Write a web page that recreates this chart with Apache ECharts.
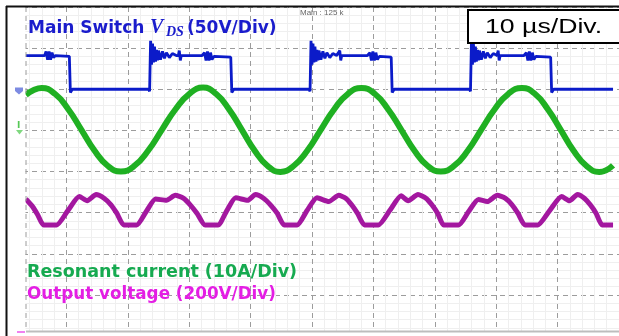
<!DOCTYPE html>
<html>
<head>
    <meta charset="UTF-8">
    <title>Scope capture</title>
    <script src="https://cdn.jsdelivr.net/npm/echarts@6/dist/echarts.min.js"></script>
</head>
<body style="margin: 0; background: #fff">
<div id="container" style="width: 619px; height: 336px"></div>
<script type="text/javascript">
    // time in µs (10 µs/div), amplitude in divisions above the bottom graticule line
    const blueTrace = [
        [3.39, 6.82], [6.45, 6.82], [6.69, 6.92], [6.94, 6.72], [7.18, 6.92], [7.42, 6.72], [7.66, 6.89], [7.90, 6.77], [8.23, 6.82],
        [10.48, 6.80], [10.65, 6.80], [10.65, 5.92], [10.97, 6.00], [23.39, 6.00], [23.55, 5.95],
        [23.71, 5.97], [23.71, 7.18], [23.87, 6.60], [24.03, 7.11], [24.19, 6.65], [24.35, 7.04], [24.52, 6.67], [24.68, 6.96],
        [24.84, 6.70], [25.00, 6.94], [25.32, 6.72], [25.65, 6.92], [25.97, 6.75], [26.29, 6.89], [26.77, 6.77], [27.26, 6.87], [27.90, 6.82],
        [28.23, 6.82], [28.39, 6.94], [28.55, 6.70], [28.71, 6.82], [32.10, 6.82],
        [32.26, 6.80], [32.50, 6.89], [32.74, 6.70], [32.98, 6.92], [33.23, 6.70], [33.47, 6.89], [33.71, 6.72], [34.03, 6.80], [36.77, 6.78],
        [36.94, 6.78], [36.94, 5.92], [37.26, 6.00], [49.52, 6.00], [49.68, 5.95],
        [49.84, 5.97], [49.84, 7.18], [50.00, 6.60], [50.16, 7.11], [50.32, 6.65], [50.48, 7.04], [50.65, 6.67], [50.81, 6.96],
        [50.97, 6.70], [51.13, 6.94], [51.45, 6.72], [51.77, 6.92], [52.10, 6.75], [52.42, 6.89], [52.90, 6.77], [53.39, 6.87], [54.03, 6.82],
        [54.35, 6.82], [54.52, 6.94], [54.68, 6.70], [54.84, 6.82], [59.03, 6.82],
        [59.19, 6.80], [59.44, 6.89], [59.68, 6.70], [59.92, 6.92], [60.16, 6.70], [60.40, 6.89], [60.65, 6.72], [60.97, 6.80], [62.90, 6.78],
        [63.06, 6.78], [63.06, 5.92], [63.39, 6.00], [75.65, 6.00], [75.81, 5.95],
        [75.97, 5.97], [75.97, 7.18], [76.13, 6.60], [76.29, 7.11], [76.45, 6.65], [76.61, 7.04], [76.77, 6.67], [76.94, 6.96],
        [77.10, 6.70], [77.26, 6.94], [77.58, 6.72], [77.90, 6.92], [78.23, 6.75], [78.55, 6.89], [79.03, 6.77], [79.52, 6.87], [80.16, 6.82],
        [80.32, 6.94], [80.48, 6.70], [80.65, 6.82], [84.52, 6.82],
        [84.68, 6.80], [84.92, 6.89], [85.16, 6.70], [85.40, 6.92], [85.65, 6.70], [85.89, 6.89], [86.13, 6.72], [86.45, 6.80], [88.87, 6.78],
        [89.03, 6.78], [89.03, 5.92], [89.35, 6.00], [99.03, 6.00]
    ];

    const greenTrace = [
        [3.39, 5.86], [4.68, 5.98],
        [5.97, 6.03], [8.12, 5.89], [10.27, 5.52], [12.42, 5.02], [14.57, 4.51], [16.72, 4.14], [18.87, 4.00],
        [21.10, 4.14], [23.33, 4.51], [25.57, 5.02], [27.80, 5.52], [30.03, 5.89], [32.26, 6.04],
        [34.36, 5.89], [36.45, 5.52], [38.55, 5.02], [40.65, 4.51], [42.74, 4.14], [44.84, 3.99],
        [47.04, 4.14], [49.25, 4.51], [51.45, 5.02], [53.65, 5.52], [55.86, 5.89], [58.06, 6.03],
        [60.21, 5.89], [62.36, 5.52], [64.52, 5.02], [66.67, 4.51], [68.82, 4.14], [70.97, 4.00],
        [73.17, 4.14], [75.38, 4.51], [77.58, 5.02], [79.78, 5.52], [81.99, 5.89], [84.19, 6.03],
        [86.29, 5.89], [88.38, 5.52], [90.48, 5.02], [92.58, 4.51], [94.67, 4.14], [96.77, 3.99],
        [99.03, 4.15]
    ];

    const magentaTrace = [
        [3.39, 3.33], [4.52, 3.14], [5.32, 2.95], [6.29, 2.70], [8.39, 2.70],
        [10.24, 3.05], [12.10, 3.39], [13.39, 3.29], [14.84, 3.44], [16.13, 3.35], [17.26, 3.19], [18.23, 2.98], [19.35, 2.70], [21.45, 2.70],
        [22.98, 3.02], [24.52, 3.33], [26.29, 3.30], [27.74, 3.42], [29.03, 3.35], [30.16, 3.19], [31.29, 2.98], [32.58, 2.70], [34.68, 2.70],
        [36.13, 3.05], [37.58, 3.36], [39.52, 3.30], [40.81, 3.44], [42.10, 3.35], [43.23, 3.19], [44.35, 2.98], [45.48, 2.70], [47.58, 2.70],
        [49.19, 3.05], [50.81, 3.36], [52.74, 3.27], [54.35, 3.42], [55.48, 3.35], [56.45, 3.19], [57.42, 2.98], [58.55, 2.70], [60.81, 2.70],
        [62.66, 3.05], [64.52, 3.41], [65.65, 3.29], [67.26, 3.44], [68.55, 3.35], [69.52, 3.19], [70.48, 2.98], [71.45, 2.70], [73.87, 2.70],
        [75.48, 3.02], [77.10, 3.32], [78.55, 3.27], [80.16, 3.42], [81.45, 3.35], [82.58, 3.19], [83.55, 2.98], [84.68, 2.70], [86.77, 2.70],
        [88.71, 3.05], [90.65, 3.39], [91.94, 3.29], [93.23, 3.44], [94.35, 3.35], [95.32, 3.19], [96.29, 2.98], [97.26, 2.70], [99.03, 2.70]
    ];

    const labelVds = ['Main Switch ', 'V', 'DS', '(50V/Div)'];
    const labelCurrent = 'Resonant current (10A/Div)';
    const labelOutput = 'Output voltage (200V/Div)';
    const labelTimebase = '10 µs/Div.';
    const labelMain = 'Main : 125 k';

    const dom = document.getElementById('container');
    const myChart = echarts.init(dom, null, {renderer: 'canvas'});

    const sans = '"DejaVu Sans", sans-serif';
    const majorLine = {show: true, lineStyle: {color: '#9c9c9c', width: 1, type: [5, 4]}};
    const minorLine = {show: true, lineStyle: {color: '#efefef', width: 1}};

    const option = {
        animation: false,
        backgroundColor: '#fff',
        grid: {left: 5, right: -5, top: 7, bottom: -1.4},
        xAxis: {
            type: 'value', min: 0, max: 100, interval: 10,
            axisLine: {show: false}, axisTick: {show: false}, axisLabel: {show: false},
            splitLine: majorLine,
            minorTick: {show: false, splitNumber: 5},
            minorSplitLine: minorLine
        },
        yAxis: {
            type: 'value', min: 0, max: 8, interval: 1,
            axisLine: {show: false}, axisTick: {show: false}, axisLabel: {show: false},
            splitLine: majorLine,
            minorTick: {show: false, splitNumber: 5},
            minorSplitLine: minorLine
        },
        series: [{
            name: 'VDS', type: 'line', data: blueTrace, symbol: 'none', z: 3,
            lineStyle: {color: '#0b1bc9', width: 2.8}
        }, {
            name: 'Resonant current', type: 'line', data: greenTrace, symbol: 'none', smooth: 0.5, z: 4,
            lineStyle: {color: '#1fb022', width: 6}
        }, {
            name: 'Output voltage', type: 'line', data: magentaTrace, symbol: 'none', smooth: 0.2, z: 5,
            lineStyle: {color: '#a3179f', width: 5}
        }],
        graphic: [
            {type: 'rect', z: 100, shape: {x: 0, y: 0, width: 25.5, height: 336}, style: {fill: '#fff'}},
            {type: 'rect', z: 100, shape: {x: 0, y: 332, width: 619, height: 4}, style: {fill: '#fff'}},
            {type: 'line', z: 101, shape: {x1: 26, y1: 331.5, x2: 619, y2: 331.5}, style: {stroke: '#bdbdbd', lineWidth: 2}},
            {type: 'line', z: 101, shape: {x1: 26, y1: 7, x2: 26, y2: 331}, style: {stroke: '#9c9c9c', lineWidth: 1, lineDash: [5, 4]}},
            {type: 'line', z: 101, shape: {x1: 6.5, y1: 6, x2: 6.5, y2: 336}, style: {stroke: '#111', lineWidth: 2}},
            {type: 'line', z: 101, shape: {x1: 6, y1: 6.5, x2: 619, y2: 6.5}, style: {stroke: '#111', lineWidth: 2}},
            // channel ground markers
            {type: 'polygon', z: 101, shape: {points: [[15, 87.5], [23, 87.5], [23, 91], [19, 94.5], [15, 91]]}, style: {fill: '#7d8be2'}},
            {type: 'text', z: 101, x: 17, y: 121, style: {text: 'I', font: 'bold 9px ' + sans, fill: '#56c856'}},
            {type: 'polygon', z: 101, shape: {points: [[16, 130], [23, 130], [19.5, 134.5]]}, style: {fill: '#7fd87f'}},
            {type: 'rect', z: 101, shape: {x: 17, y: 331, width: 8, height: 2}, style: {fill: '#f080f0'}},
            // annotations
            {type: 'text', z: 102, x: 300, y: 13, style: {text: labelMain, font: '8px "Liberation Sans", sans-serif', fill: '#666', verticalAlign: 'middle'}},
            {type: 'text', z: 102, x: 28, y: 28.5, style: {text: labelVds[0], font: 'bold 17px ' + sans, fill: '#1a1ccc', verticalAlign: 'middle'}},
            {type: 'text', z: 102, x: 150, y: 27.5, style: {text: labelVds[1], font: 'italic bold 20px "Liberation Serif", serif', fill: '#1a1ccc', verticalAlign: 'middle'}},
            {type: 'text', z: 102, x: 166, y: 32.5, style: {text: labelVds[2], font: 'italic bold 14px "Liberation Serif", serif', fill: '#1a1ccc', verticalAlign: 'middle'}},
            {type: 'text', z: 102, x: 187, y: 28.5, style: {text: labelVds[3], font: 'bold 17px ' + sans, fill: '#1a1ccc', verticalAlign: 'middle'}},
            {type: 'rect', z: 102, shape: {x: 468, y: 10, width: 160, height: 33}, style: {fill: '#fff', stroke: '#000', lineWidth: 2}},
            {type: 'text', z: 103, x: 485, y: 27.5, scaleX: 1.27, style: {text: labelTimebase, font: '21px "Liberation Sans", sans-serif', fill: '#000', verticalAlign: 'middle'}},
            {type: 'text', z: 102, x: 27, y: 272, style: {text: labelCurrent, font: 'bold 17.5px ' + sans, fill: '#16aa50', verticalAlign: 'middle'}},
            {type: 'text', z: 102, x: 27, y: 294.5, style: {text: labelOutput, font: 'bold 16.8px ' + sans, fill: '#e41ee4', verticalAlign: 'middle'}}
        ]
    };

    myChart.setOption(option, true);
</script>
</body>
</html>
